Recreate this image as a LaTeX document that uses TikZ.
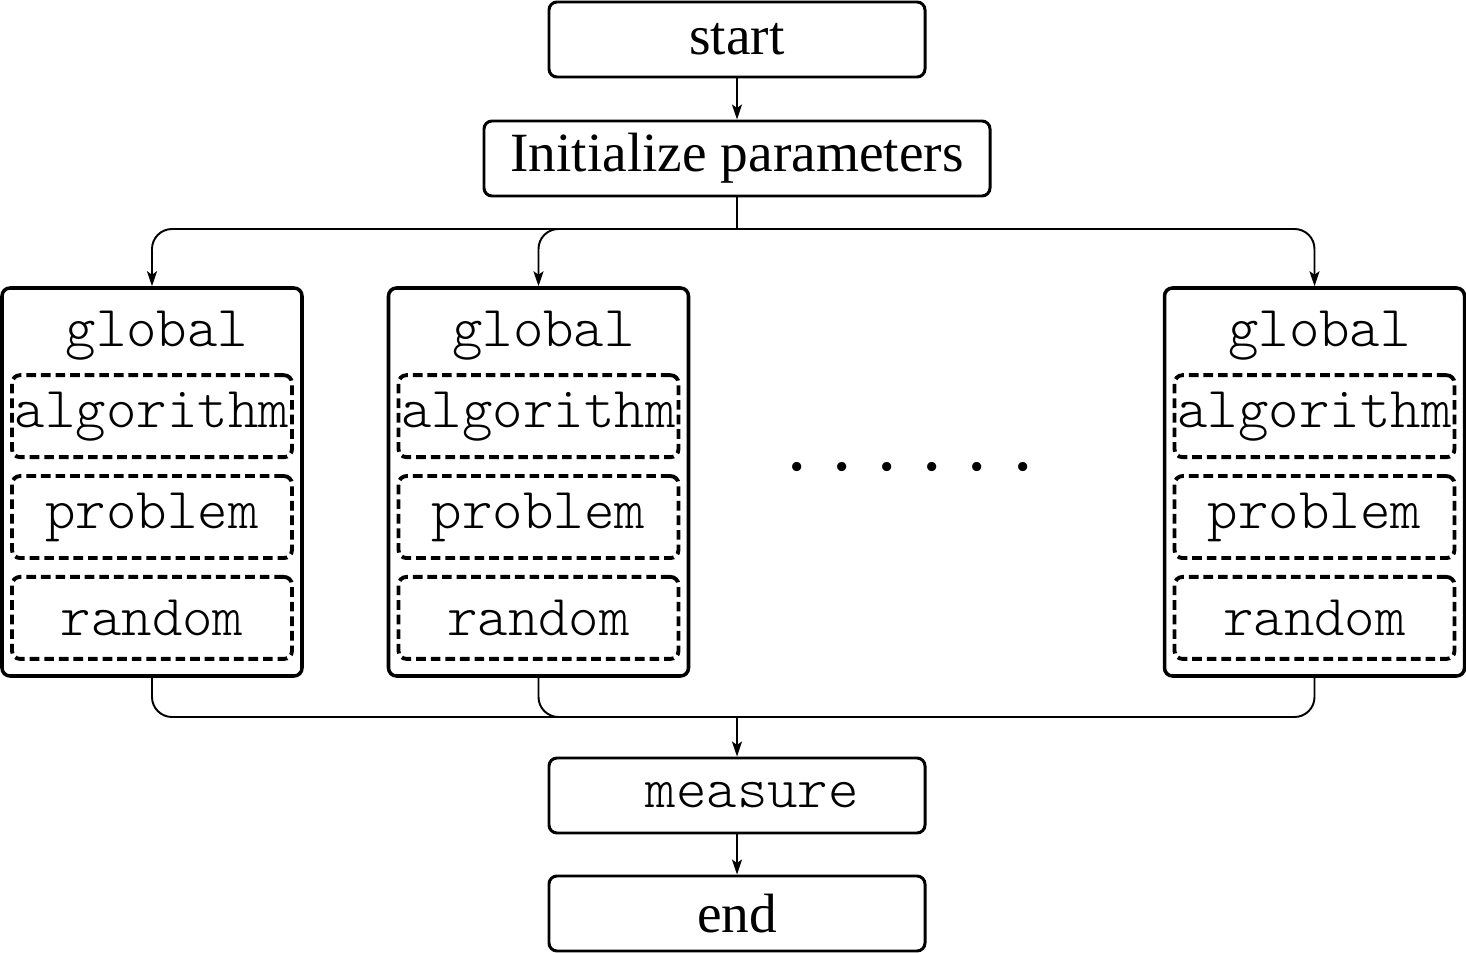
\documentclass[tikz,border=0pt]{standalone}
\usepackage{fontspec}
\setmainfont{Liberation Serif}
\setmonofont{Latin Modern Mono Light}
\usepackage{tikz}
\usetikzlibrary{shapes, arrows.meta, positioning, calc}

\begin{document}
\begin{tikzpicture}[
        >={Stealth[length=0.3cm, width=0.2cm, inset=0.07cm]},
        flow/.style={rectangle, rounded corners=0.16cm, draw, line width=1.7pt, minimum width=7.52cm, minimum height=1.5cm, font=\fontsize{31.5}{36}\selectfont},
        flowtt/.style={flow, font=\ttfamily\fontsize{33}{38}\selectfont},
        group/.style={rectangle, rounded corners=0.16cm, draw, line width=2pt, minimum width=6cm, minimum height=7.76cm},
        part/.style={rectangle, rounded corners=0.16cm, draw, line width=2.2pt, dash pattern=on 5.5pt off 2.8pt, minimum width=5.6cm, minimum height=1.64cm, inner sep=1pt, font=\ttfamily\fontsize{33}{38}\selectfont},
        link/.style={line width=1.1pt}
    ]
        \useasboundingbox (0,0) rectangle (29.32,-19.06);

        \node[flow] (start) at (14.74,-0.79) {start};
        \node[flow, minimum width=10.12cm] (init) at (14.74,-3.17) {Initialize parameters};
        \coordinate (split) at (14.74,-4.58);
        \coordinate (merge) at (14.74,-14.34);

        % Parallel runs
        \foreach \n/\x in {1/3.04, 2/10.77, 3/26.29} {
            \node[group] (grp\n) at (\x,-9.64) {};
            \node[font=\ttfamily\fontsize{33}{38}\selectfont] (glob\n) at ($(grp\n.north)+(0.1,-0.98)$) {global};
            \node[part, below=1.74cm of grp\n.north] (alg\n) {algorithm};
            \node[part, below=0.3cm of alg\n] (prob\n) {problem};
            \node[part, below=0.3cm of prob\n] (rand\n) {random};
            \draw[->, link, rounded corners=0.4cm] (split) -| (grp\n.north);
            \draw[link, rounded corners=0.4cm] (grp\n.south) |- (merge);
        }

        \node (dots) at (18.2,-9.34) {\fontsize{44}{44}\selectfont . . . . . .};

        \node[flowtt] (measure) at (14.74,-15.91) {~measure};
        \node[flow] (end) at (14.74,-18.27) {end};

        % Links
        \draw[->, link] (start) -- (init);
        \draw[link] (init) -- (split);
        \draw[->, link] (merge) -- (measure);
        \draw[->, link] (measure) -- (end);

    \end{tikzpicture}
\end{document}
